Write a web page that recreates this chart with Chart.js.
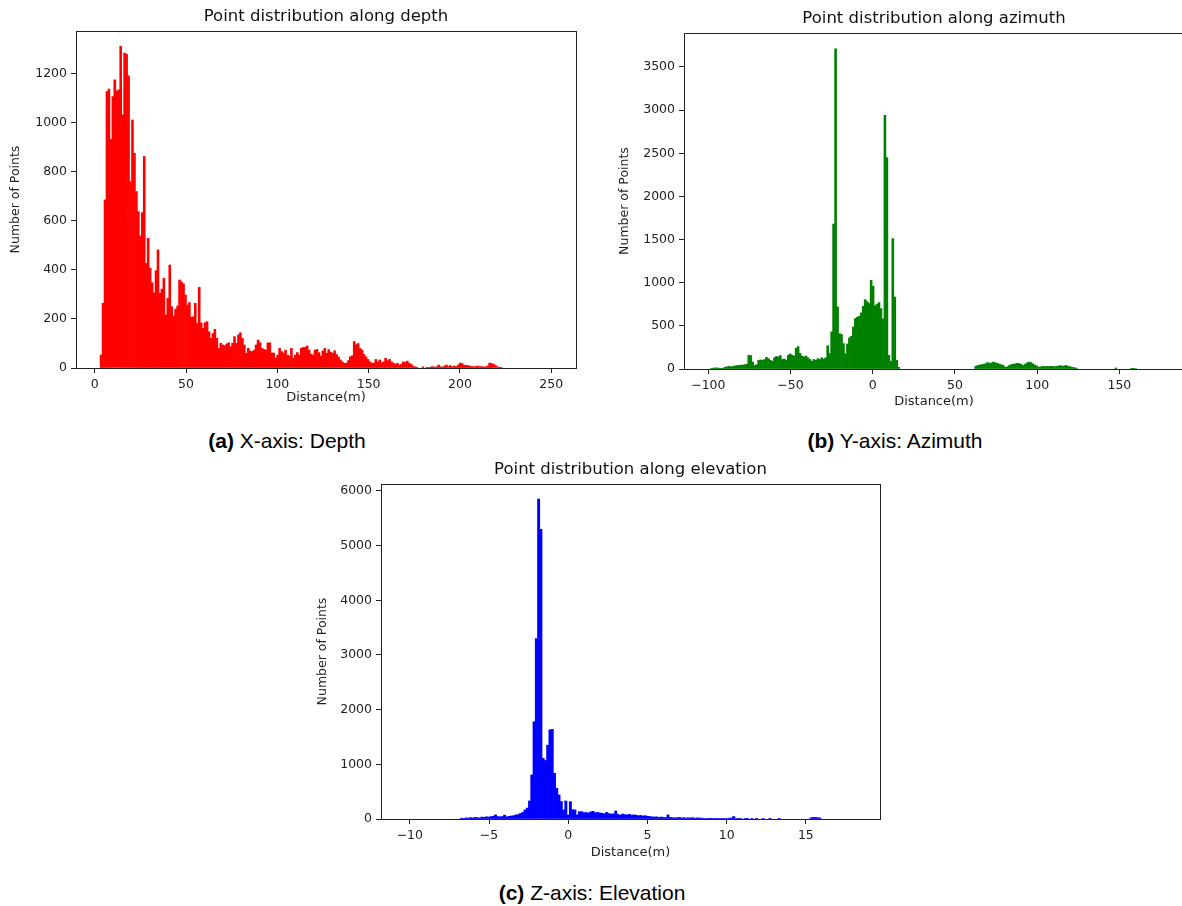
<!DOCTYPE html>
<html>
<head>
<meta charset="utf-8">
<script src="https://cdn.jsdelivr.net/npm/chart.js@4.4.1/dist/chart.umd.min.js"></script>
<style>
  html, body { margin: 0; padding: 0; background: #fff; overflow: hidden; width: 1182px; height: 906px; }
  canvas { position: absolute; }
  .cap { position: absolute; font-family: "Liberation Sans", Arial, sans-serif; font-size: 21px; line-height: 21px;
         color: #000; transform: translateX(-50%); white-space: nowrap; }
</style>
</head>
<body>
<canvas id="depth" width="590" height="410" style="left:0;top:0"></canvas>
<canvas id="azimuth" width="600" height="412" style="left:600px;top:0"></canvas>
<canvas id="elevation" width="600" height="410" style="left:300px;top:455px"></canvas>
<div class="cap" style="left:287px;top:430px"><b>(a)</b> X-axis: Depth</div>
<div class="cap" style="left:895px;top:430px"><b>(b)</b> Y-axis: Azimuth</div>
<div class="cap" style="left:592px;top:882px"><b>(c)</b> Z-axis: Elevation</div>
<script>
// histogram bins: first bin left edge and bin width (metres)
const depthStart = 2.9, depthWidth = 1.075;
const depthCounts = [
  53, 264, 686, 1128, 1138, 933, 1107, 1176, 1131, 1135,
  1312, 1033, 1285, 1280, 1192, 760, 1012, 876, 720, 638,
  539, 634, 863, 427, 529, 407, 348, 307, 397, 482,
  305, 322, 366, 216, 284, 420, 250, 212, 240, 253,
  359, 351, 343, 298, 257, 267, 207, 209, 264, 182,
  329, 184, 162, 185, 189, 148, 121, 141, 158, 121,
  80, 101, 94, 91, 98, 103, 87, 101, 128, 101,
  135, 144, 121, 94, 60, 80, 69, 67, 73, 94,
  114, 103, 80, 76, 73, 102, 103, 61, 61, 40,
  53, 80, 67, 61, 73, 53, 49, 80, 40, 53,
  63, 53, 80, 84, 84, 90, 73, 57, 53, 73,
  76, 63, 49,
  70, 80, 60, 75, 65, 60, 70, 55, 45, 33,
  25, 19, 20, 30, 46, 50, 108, 95, 100, 80,
  73, 55, 45, 35, 25, 20, 20, 35, 25, 33,
  22, 25, 40, 30, 35, 25, 20, 15, 19, 12,
  15, 25, 22, 28, 20, 15, 8, 5, 3, 0,
  0, 5, 0, 3, 2, 4, 6, 3, 5, 12,
  5, 4, 8, 12, 6, 10, 5, 8, 6, 12,
  20, 18, 12, 10, 10, 8, 6, 5, 6, 8,
  5, 6, 4, 5, 8, 20, 18, 15, 10, 5,
  3, 2
];
const depthXTicks = [0, 50, 100, 150, 200, 250];
const depthYTicks = [0, 200, 400, 600, 800, 1000, 1200];

const azimuthStart = -100, azimuthWidth = 1.2;
const azimuthCounts = [
  0, 5, 10, 12, 12, 10, 5, 10, 20, 25,
  30, 25, 30, 35, 40, 40, 45, 45, 50, 55,
  160, 155, 80, 40, 50, 100, 105, 100, 110, 135,
  120, 100, 90, 130, 145, 140, 155, 110, 115, 100,
  160, 175, 160, 150, 240, 260, 180, 150, 140, 150,
  130, 110, 90, 110, 100, 120, 110, 130, 115, 130,
  270, 180, 430, 1680, 3710,
  720, 410, 400, 294, 178, 290, 360, 380, 487, 585,
  600, 610, 650, 727, 803, 780, 760, 1027, 960, 734,
  749, 770, 700, 580, 2940, 2450, 158, 89, 1511, 834,
  100, 20,
  0, 0, 0, 0, 0, 0, 0, 0, 0, 0, 0, 0, 0, 0, 0, 0, 0, 0, 0,
  0, 0, 0, 0, 0, 0, 0, 0, 0, 0, 0, 0, 0, 0, 0, 0, 0, 0, 0,
  30, 40, 45, 50, 55, 60, 75, 65, 70, 80,
  72, 65, 55, 50, 40, 20, 25, 40, 50, 55,
  60, 65, 62, 55, 40, 55, 70, 80, 75, 60,
  45, 35, 20, 25, 30, 28, 30, 28, 32, 30,
  25, 30, 35, 40, 30, 38, 40, 30, 25, 20,
  15, 10,
  0, 0, 0, 0, 0, 0, 0, 0, 0, 0, 0, 0, 0, 0, 0, 0, 0, 0, 0,
  12, 0, 0, 0, 0, 0, 0, 0, 8, 8, 6
];
const azimuthXTicks = [-100, -50, 0, 50, 100, 150];
const azimuthYTicks = [0, 500, 1000, 1500, 2000, 2500, 3000, 3500];

const elevationStart = -10.39, elevationWidth = 0.1432;
const elevationCounts = [
  0, 0, 0, 0, 0, 0, 0, 0, 0, 0, 0, 0, 0, 0, 0, 0, 0, 0, 0, 0, 0, 0, 0, 0, 0,
  15, 10, 20, 15, 25, 20, 30, 25, 20, 35, 30,
  40, 35, 45, 50, 75, 45, 40, 45, 70, 40, 50, 55,
  60, 75, 80,
  100, 120, 165, 200, 330,
  805, 1780, 3300, 5850, 5300,
  1110, 1070, 1350, 1630, 1640,
  836, 560, 440, 320, 165, 330, 73, 317, 171, 165, 73, 134, 134,
  116, 120, 110, 130, 140, 115, 120, 110,
  105, 95, 120, 100, 90, 95,
  146,
  85, 70, 90, 80, 75, 85, 70, 75,
  70, 60, 65, 55, 60, 50,
  45, 40, 35, 40, 30, 35, 30, 25, 75, 30,
  25, 20, 25, 30, 20, 25, 18, 22, 20, 25, 15, 20, 18, 15,
  10, 12, 8, 15, 10, 12, 8, 10, 12, 10, 8, 15, 20, 45, 10,
  5, 3, 0, 4, 2, 0, 3, 0, 2, 0, 0, 3, 0, 0, 2, 0, 0, 0,
  12,
  0, 0, 0, 0, 0, 0, 0, 0, 0, 0, 0, 0, 0,
  20, 30, 30, 25, 20
];
const elevationXTicks = [-10, -5, 0, 5, 10, 15];
const elevationYTicks = [0, 1000, 2000, 3000, 4000, 5000, 6000];

const FONT = '"DejaVu Sans", sans-serif';
const fmt = v => (v < 0 ? '\u2212' + Math.abs(v) : String(v));

// box round the plot and the title above it
const frame = {
  id: 'frame',
  afterDraw(chart, args, opts) {
    const { ctx, chartArea: a } = chart;
    ctx.save();
    ctx.strokeStyle = '#222';
    ctx.lineWidth = 1;
    ctx.strokeRect(Math.round(a.left) + 0.5, Math.round(a.top) + 0.5,
      Math.round(a.right - a.left), Math.round(a.bottom - a.top));
    ctx.fillStyle = '#111';
    ctx.font = '16.5px ' + FONT;
    ctx.textAlign = 'center';
    ctx.textBaseline = 'middle';
    ctx.fillText(opts.text, (a.left + a.right) / 2, a.top - 14);
    ctx.restore();
  }
};

function hist(id, cfg) {
  // empty bins are left out so they draw nothing
  const points = cfg.counts.map((c, i) => ({ x: cfg.start + (i + 0.5) * cfg.width, y: c > 0 ? c : null }));
  const tickStyle = { font: { family: FONT, size: 12.5 }, color: '#222', padding: 4, autoSkip: false, callback: fmt };
  const gridStyle = { drawOnChartArea: false, drawTicks: true, tickLength: 5, color: '#222', offset: false };
  new Chart(document.getElementById(id), {
    type: 'bar',
    data: {
      datasets: [{
        data: points,
        backgroundColor: cfg.color,
        borderWidth: 0,
        barPercentage: 1,
        categoryPercentage: 1
      }]
    },
    options: {
      responsive: false,
      animation: false,
      devicePixelRatio: 1,
      layout: { padding: cfg.pad },
      plugins: { legend: { display: false }, tooltip: { enabled: false }, frame: { text: cfg.title } },
      scales: {
        x: {
          type: 'linear', offset: false, min: cfg.xMin, max: cfg.xMax,
          border: { display: false }, grid: gridStyle,
          ticks: { ...tickStyle, maxRotation: 0 },
          afterBuildTicks(s) { s.ticks = cfg.xTicks.map(v => ({ value: v })); },
          title: { display: true, text: 'Distance(m)', font: { family: FONT, size: 13 }, color: '#222', padding: 0 },
          afterFit(s) { s.height = cfg.xh; }
        },
        y: {
          min: 0, max: cfg.yMax,
          border: { display: false }, grid: gridStyle,
          ticks: tickStyle,
          afterBuildTicks(s) { s.ticks = cfg.yTicks.map(v => ({ value: v })); },
          title: { display: true, text: 'Number of Points', font: { family: FONT, size: 12.5 }, color: '#222', padding: 0 },
          afterFit(s) { s.width = cfg.yw; }
        }
      }
    },
    plugins: [frame]
  });
}

hist('depth', {
  counts: depthCounts, start: depthStart, width: depthWidth, color: '#ff0000',
  title: 'Point distribution along depth',
  xMin: -10.3, xMax: 263.6, xTicks: depthXTicks, yMax: 1375, yTicks: depthYTicks,
  pad: { left: 8, top: 31, right: 14, bottom: 5 }, yw: 68, xh: 37
});

hist('azimuth', {
  counts: azimuthCounts, start: azimuthStart, width: azimuthWidth, color: '#008000',
  title: 'Point distribution along azimuth',
  xMin: -114.8, xMax: 189.3, xTicks: azimuthXTicks, yMax: 3894, yTicks: azimuthYTicks,
  pad: { left: 17, top: 33, right: 16, bottom: 3 }, yw: 67, xh: 40
});

hist('elevation', {
  counts: elevationCounts, start: elevationStart, width: elevationWidth, color: '#0000ff',
  title: 'Point distribution along elevation',
  xMin: -11.82, xMax: 19.68, xTicks: elevationXTicks, yMax: 6128, yTicks: elevationYTicks,
  pad: { left: 15, top: 29, right: 20, bottom: 5 }, yw: 66, xh: 41
});
</script>
</body>
</html>
